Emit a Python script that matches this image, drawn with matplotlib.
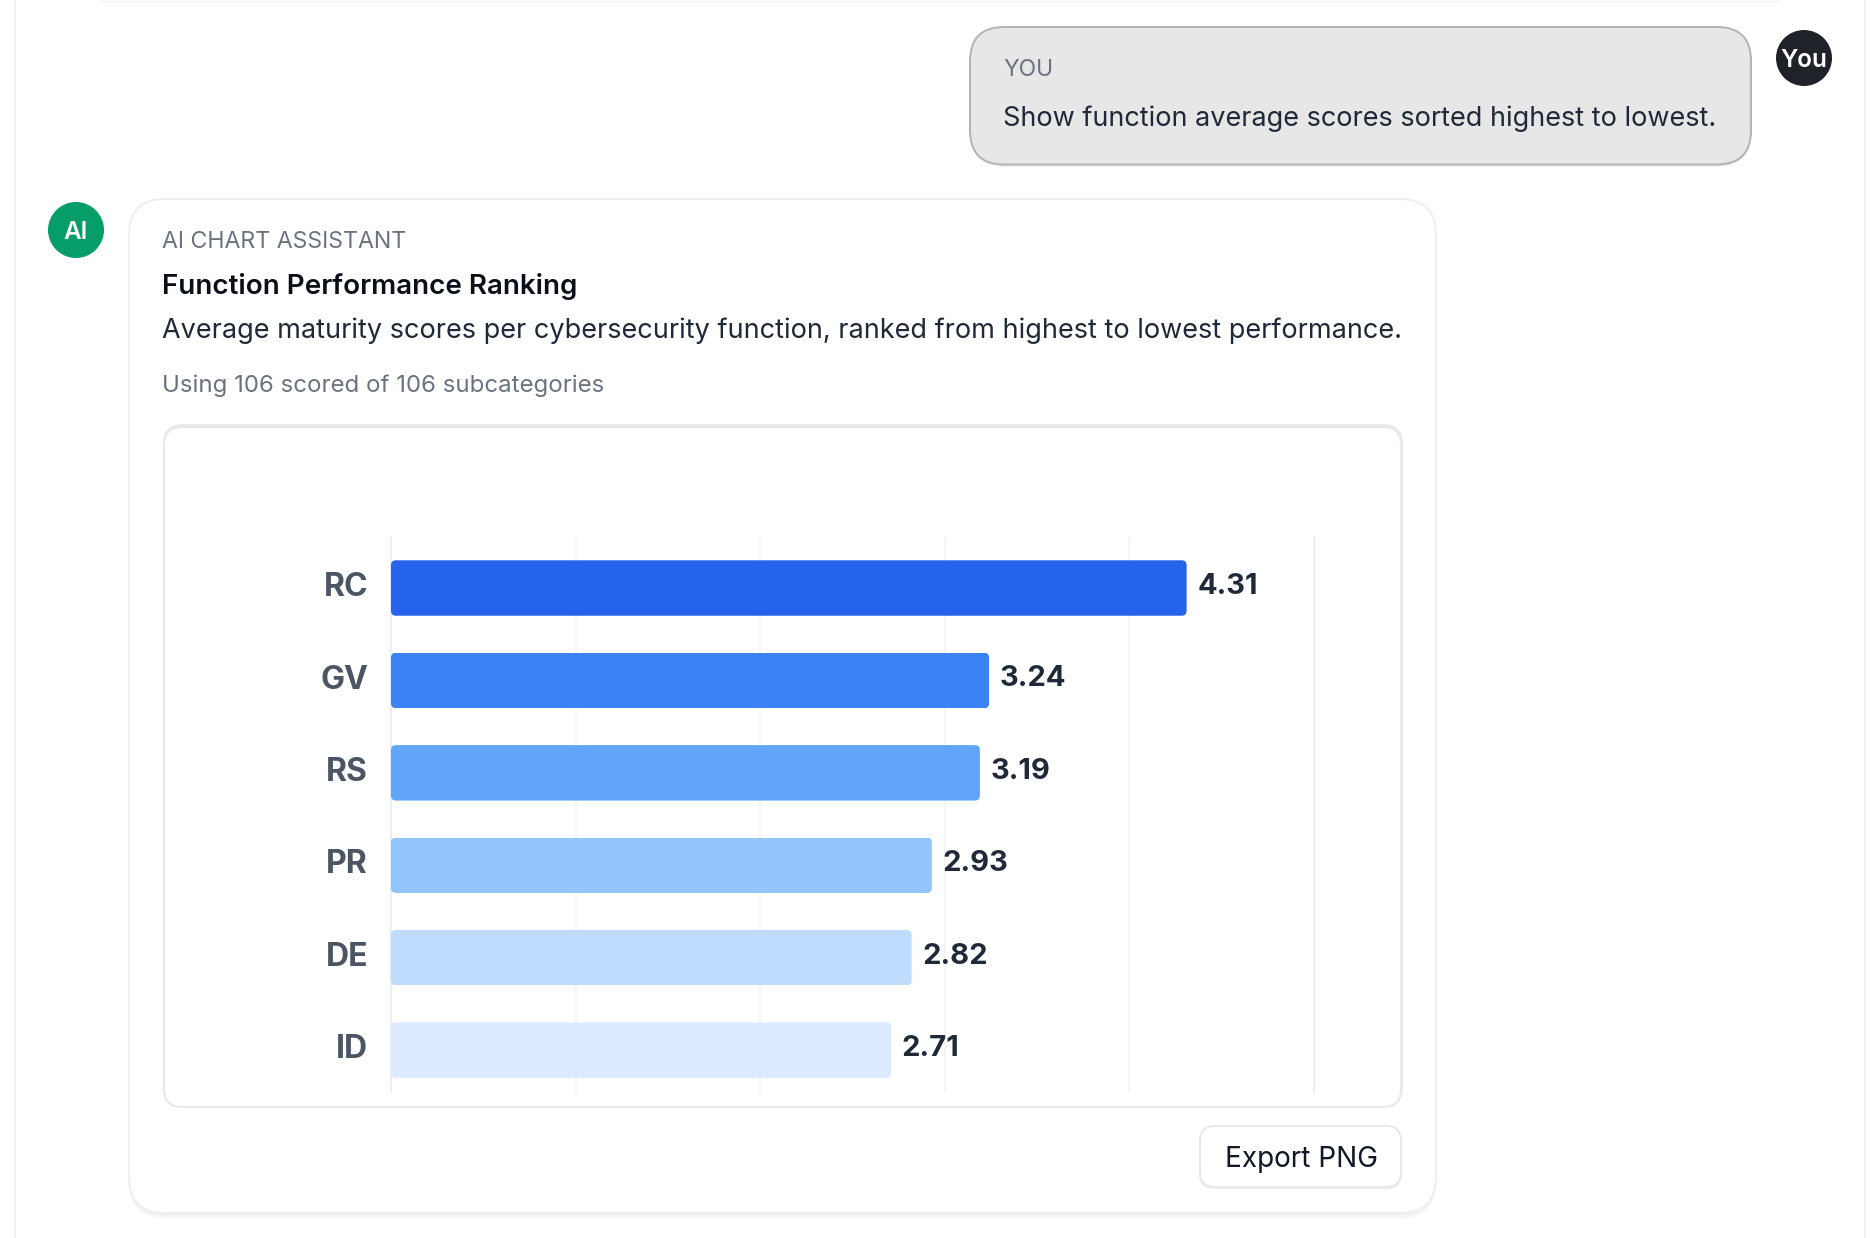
import matplotlib
matplotlib.use("Agg")
import matplotlib.pyplot as plt
from matplotlib.patches import FancyBboxPatch, Circle
from matplotlib.transforms import ScaledTranslation

# ---- data ----
functions = ["RC", "GV", "RS", "PR", "DE", "ID"]
scores = [4.31, 3.24, 3.19, 2.93, 2.82, 2.71]
bar_colors = ["#2563eb", "#3b82f6", "#60a5fa", "#93c5fd", "#bfdbfe", "#dbeafe"]
grid_ticks = [0, 1, 2, 3, 4, 5]

W, H = 1870, 1238
DPI = 100
plt.rcParams["font.family"] = ["Inter", "DejaVu Sans"]

fig = plt.figure(figsize=(W / DPI, H / DPI), dpi=DPI, facecolor="white")
ui = fig.add_axes([0, 0, 1, 1])
ui.set_xlim(0, W)
ui.set_ylim(H, 0)
ui.axis("off")


def rrect(x0, y0, x1, y1, r, fc="white", ec="none", lw=0.0, z=1, alpha=None):
    p = FancyBboxPatch((x0, y0), x1 - x0, y1 - y0,
                       boxstyle=f"round,pad=0,rounding_size={r}",
                       fc=fc, ec=ec, lw=lw * 72 / DPI, zorder=z, alpha=alpha)
    ui.add_patch(p)
    return p


def fit_text(x, y, s, right, size, color, weight="normal", ha="left", z=10):
    t = ui.text(x, y + 2.2, s, fontsize=size, color=color, fontweight=weight,
                ha=ha, va="center", zorder=z)
    if right is not None:
        rend = fig.canvas.get_renderer()
        for _ in range(3):
            bb = t.get_window_extent(rend)
            t.set_fontsize(t.get_fontsize() * (right - x) / bb.width)
    return t


# page frame
rrect(15, -60, 1865, 1290, 34, ec="#efefef", lw=2, z=0)
ui.plot([100, 1780], [1, 1], color="#f4f4f4", lw=1, zorder=0)

# user bubble
rrect(971, 30, 1751, 167, 34, fc="#f0f0f0", z=1)
rrect(970, 27, 1751, 164.5, 34, fc="#e7e7e7", ec="#b4b4b4", lw=2, z=2)
fit_text(1003, 68, "YOU", 1053, 16, "#6b7280")
fit_text(1003, 117, "Show function average scores sorted highest to lowest.", 1716, 20, "#1f2937")
ui.add_patch(Circle((1804, 58), 28, fc="#1f2329", ec="none", zorder=3))
fit_text(1804, 58, "You", None, 17.5, "white", weight="semibold", ha="center")

# assistant card
for off, a in [(6, 0.25), (4, 0.4), (2, 0.6)]:
    rrect(129, 199 + off, 1436, 1213 + off, 36, fc="#ececec", z=1, alpha=a)
rrect(129, 199, 1436, 1213, 36, fc="white", ec="#efefef", lw=2, z=2)
ui.add_patch(Circle((76, 230), 28, fc="#059e69", ec="none", zorder=3))
fit_text(76, 230, "AI", None, 17.5, "white", weight="semibold", ha="center")
fit_text(162.5, 240, "AI CHART ASSISTANT", 407, 16, "#6b7280")
fit_text(162.5, 284, "Function Performance Ranking", 578, 20, "#0b0f19", weight="semibold")
fit_text(162.5, 329, "Average maturity scores per cybersecurity function, ranked from highest to lowest performance.",
         1402.6, 20, "#1f2937")
fit_text(162.5, 384, "Using 106 scored of 106 subcategories", 604.5, 17, "#6b7280")

# chart frame
rrect(163, 424, 1403, 1107, 20, fc="#e9e9e9", z=3)
rrect(164, 427, 1401, 1107, 18, fc="white", ec="#e8e8e8", lw=2, z=4)

# export button
rrect(1199, 1127, 1402, 1189, 15, fc="#efefef", z=3)
rrect(1200, 1126, 1401, 1187, 15, fc="white", ec="#e8e8e8", lw=2, z=4)
fit_text(1225, 1157, "Export PNG", 1378, 20, "#111827")

# ---- chart ----
L, R, T, B = 391.0, 1314.0, 537.0, 1091.5
ax = fig.add_axes([L / W, 1 - B / H, (R - L) / W, (B - T) / H])
ax.patch.set_alpha(0)
ax.set_zorder(5)
ax.set_xlim(grid_ticks[0], grid_ticks[-1])
ax.set_ylim(len(functions) - 0.5, -0.5)
for s in ax.spines.values():
    s.set_visible(False)
ax.set_xticks(grid_ticks)
ax.set_xticklabels([])
ax.tick_params(axis="x", length=0)
ax.grid(axis="x", color="#f1f2f4", lw=1.5 * 72 / DPI, zorder=0)
ax.set_axisbelow(True)
for g in (grid_ticks[0], grid_ticks[-1]):
    ax.axvline(g, color="#e5e7eb", lw=1.6 * 72 / DPI, zorder=0.5, clip_on=False)

px_x = (R - L) / (grid_ticks[-1] - grid_ticks[0])
px_y = (B - T) / len(functions)
ypos = list(range(len(functions)))
# the bars sit slightly below the centre of their bands
bar_shift = 4.8 / px_y
bars = ax.barh([p + bar_shift for p in ypos], scores, height=0.6, color=bar_colors, zorder=2)
radius = 5.0
for b in bars:
    clip = FancyBboxPatch((b.get_x(), b.get_y()), b.get_width(), b.get_height(),
                          boxstyle=f"round,pad=0,rounding_size={radius / px_x}",
                          mutation_aspect=px_x / px_y, transform=ax.transData)
    b.set_clip_path(clip)

ax.set_yticks(ypos)
ax.set_yticklabels(functions, fontsize=23, fontweight="bold", color="#4b5563")
ax.tick_params(axis="y", length=0, pad=16.5)
down = ScaledTranslation(0, -1 / DPI, fig.dpi_scale_trans)
for lab in ax.get_yticklabels():
    lab.set_transform(lab.get_transform() + down)

for y, v in zip(ypos, scores):
    ax.annotate(f"{v:.2f}", (v, y), xytext=(10.5 * 72 / DPI, -3.2 * 72 / DPI),
                textcoords="offset points", va="center", ha="left",
                fontsize=21, fontweight="bold", color="#1f2937", zorder=3)

fig.savefig("out.png", dpi=DPI, facecolor="white")
